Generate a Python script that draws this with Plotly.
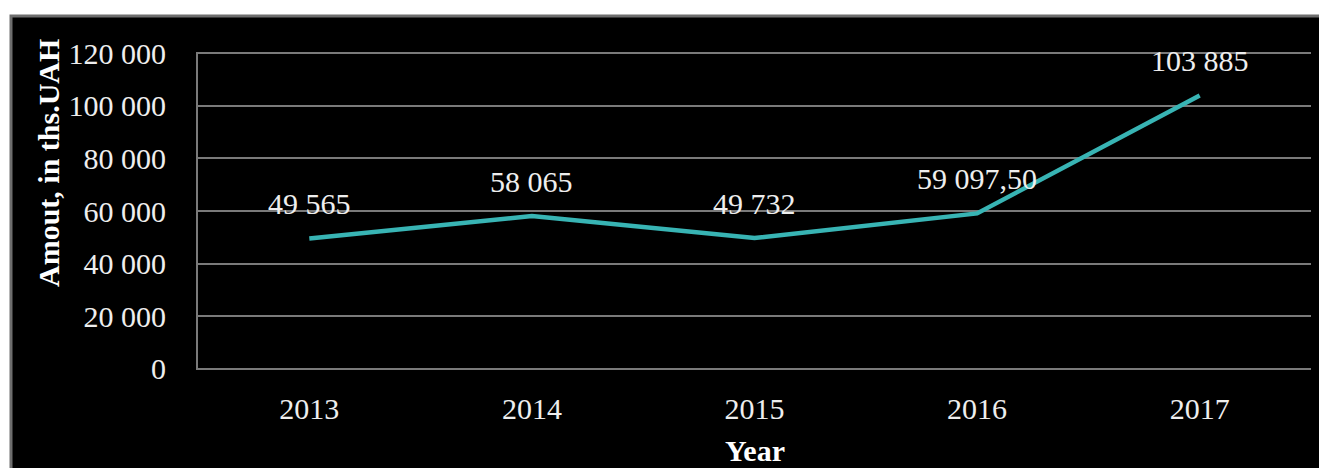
import plotly.graph_objects as go

# Annual amounts, thousands of UAH
years = ["2013", "2014", "2015", "2016", "2017"]
amounts = [49565, 58065, 49732, 59097.50, 103885]
y_ticks = [0, 20000, 40000, 60000, 80000, 100000, 120000]

W, H = 1319, 468
L, R, T, B = 198, 8, 52, 98
pw, ph = W - L - R, H - T - B
Y_MAX = 120000
Y_PAD = 400  # keeps the edge gridlines inside the plot area

SERIF = "Liberation Serif, Times New Roman, serif"
TXT = "#eeeeee"
GRID = "#7a7a7a"
LINE = "#38b4b4"


def fmt(v):
    if float(v).is_integer():
        return f"{int(v):,}".replace(",", " ")
    s = f"{v:,.2f}"
    return s.replace(",", " ").replace(".", ",")


def px_x(x):
    return (x - L) / pw


def px_y(y):
    return (H - B - y) / ph


fig = go.Figure()
fig.add_trace(go.Scatter(
    x=list(range(len(years))), y=amounts, mode="lines",
    line=dict(color=LINE, width=4.5),
    hoverinfo="skip", showlegend=False,
))

annotations = []
for i, v in enumerate(amounts):
    annotations.append(dict(
        x=i, y=v, xref="x", yref="y", text=fmt(v), showarrow=False,
        xanchor="center", yanchor="middle", yshift=35,
        font=dict(family=SERIF, size=30, color=TXT),
    ))

annotations.append(dict(
    xref="paper", yref="paper", x=px_x(48), y=px_y(163),
    xanchor="center", yanchor="middle",
    text="<b>Amout, in ths.UAH</b>", textangle=-90, showarrow=False,
    font=dict(family=SERIF, size=30, color="#ffffff"),
))
annotations.append(dict(
    xref="paper", yref="paper", x=px_x(755), y=px_y(H),
    xanchor="center", yanchor="bottom", borderpad=0,
    text="<b>Year</b>", showarrow=False,
    font=dict(family=SERIF, size=30, color="#ffffff"),
))

fig.update_layout(
    width=W, height=H,
    margin=dict(l=L, r=R, t=T, b=B, pad=0),
    paper_bgcolor="#ffffff",
    plot_bgcolor="#000000",
    separators=", ",
    annotations=annotations,
    shapes=[dict(
        type="rect", xref="paper", yref="paper", layer="below",
        x0=px_x(11), x1=px_x(W + 10), y0=px_y(H + 20), y1=px_y(16),
        fillcolor="#000000", line=dict(color="#6e6e6e", width=3),
    )],
    xaxis=dict(
        range=[-0.5, len(years) - 0.5], showgrid=False,
        tickvals=list(range(len(years))), ticktext=years,
        showline=False, zeroline=False, ticks="",
        ticklabelstandoff=18,
        tickfont=dict(family=SERIF, size=30, color=TXT),
    ),
    yaxis=dict(
        range=[-Y_PAD, Y_MAX + Y_PAD], tickvals=y_ticks, tickformat=",d",
        showgrid=True, gridcolor=GRID, gridwidth=2,
        showline=True, linecolor=GRID, linewidth=2,
        zeroline=False, ticks="", ticklabelstandoff=24,
        tickfont=dict(family=SERIF, size=30, color=TXT),
    ),
)

fig.write_html("out.html")
